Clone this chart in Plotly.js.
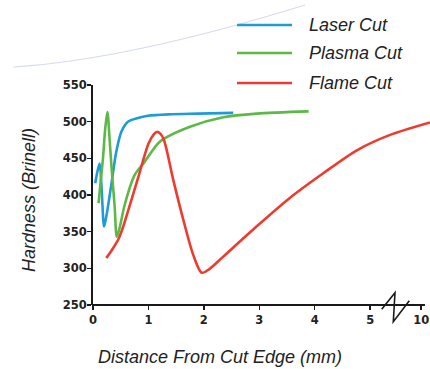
<!DOCTYPE html>
<html>
<head>
<meta charset="utf-8">
<script src="https://cdn.plot.ly/plotly-3.0.1.min.js"></script>
<style>html,body{margin:0;padding:0;background:#fff;}#chart{width:430px;height:369px;}</style>
</head>
<body>
<div id="chart"></div>
<script>
// Tick labels (x axis is broken after 5; last tick stands for 10 mm)
var xTickVals = [0, 1, 2, 3, 4, 5, 5.92];
var xTickText = ['0', '1', '2', '3', '4', '5', '10'];
var yTickVals = [250, 300, 350, 400, 450, 500, 550];

var seriesNames = ['Laser Cut', 'Plasma Cut', 'Flame Cut'];
var seriesColors = ['#1f9bd8', '#5cb946', '#ee3b30'];

// Laser Cut
var laserX = [0.04, 0.08, 0.12, 0.16, 0.20, 0.25, 0.33, 0.42, 0.51, 0.63, 0.81, 0.99, 1.36, 1.9, 2.53];
var laserY = [416, 432, 443, 402, 357, 375, 414, 459, 486, 500, 505, 508, 510, 511, 512];

// Plasma Cut
var plasmaX = [0.10, 0.14, 0.18, 0.22, 0.26, 0.30, 0.34, 0.39, 0.43, 0.48, 0.57, 0.75, 0.93, 1.21, 1.75, 2.35, 2.95, 3.89];
var plasmaY = [389, 420, 450, 490, 513, 475, 432, 385, 343, 355, 386, 427, 445, 473, 493, 506, 511, 514];

// Flame Cut
var flameX = [0.24, 0.35, 0.46, 0.55, 0.64, 0.82, 1.0, 1.1, 1.15, 1.21, 1.28, 1.45, 1.63, 1.81, 1.96, 2.1, 2.35, 2.95, 3.55, 4.16, 4.76, 5.36, 6.08];
var flameY = [314, 326, 340, 358, 380, 425, 470, 483, 486, 484, 475, 420, 366, 318, 294, 299, 316, 357, 396, 430, 461, 482, 499];

var xs = [laserX, plasmaX, flameX];
var ys = [laserY, plasmaY, flameY];

var traces = xs.map(function (x, i) {
  return {
    x: x, y: ys[i], name: seriesNames[i], type: 'scatter', mode: 'lines',
    line: {color: seriesColors[i], width: 2.6, shape: 'spline', smoothing: 0.8},
    showlegend: false, hoverinfo: 'skip'
  };
});

var axisColor = '#1a1a1a';
var tickFont = {family: 'DejaVu Sans, sans-serif', size: 11.5, color: '#222', weight: 'bold'};
var titleFont = {family: 'Liberation Sans, Arial, sans-serif', size: 18, color: '#222', style: 'italic'};

var shapes = [
  // x axis line (ends at the "10" tick)
  {type: 'line', xref: 'paper', yref: 'paper', x0: -0.003, x1: 0.985, y0: 0, y1: 0,
   line: {color: axisColor, width: 2}},
  // axis break symbol
  {type: 'path', xref: 'paper', yref: 'paper',
   path: 'M0.8567,-0.0195 L0.8961,0.0559 L0.8911,-0.0759 L0.9386,0.0195',
   line: {color: axisColor, width: 1.6}},
  // decorative arc at the top
  {type: 'path', xref: 'paper', yref: 'paper',
   path: 'M-0.2365,1.0818 Q0.1049,1.1150 0.6291,1.3636',
   line: {color: '#d6dbee', width: 1.2}}
];

var annotations = [
  {xref: 'paper', yref: 'paper', x: (220 - 93) / 337, y: (305 - 357) / 220, text: 'Distance From Cut Edge (mm)',
   showarrow: false, xanchor: 'center', yanchor: 'middle', font: titleFont},
  {xref: 'paper', yref: 'paper', x: (29 - 93) / 337, y: (305 - 200) / 220, text: 'Hardness (Brinell)',
   showarrow: false, xanchor: 'center', yanchor: 'middle', textangle: -90, font: titleFont}
];

// custom legend
var legendY = [25, 53, 83];
seriesNames.forEach(function (n, i) {
  var py = (305 - legendY[i]) / 220;
  shapes.push({type: 'line', xref: 'paper', yref: 'paper', x0: (237 - 93) / 337, x1: (292 - 93) / 337,
    y0: py, y1: py, line: {color: seriesColors[i], width: 2.6}});
  annotations.push({xref: 'paper', yref: 'paper', x: (307 - 93) / 337, y: py, text: n, showarrow: false,
    xanchor: 'left', yanchor: 'middle', font: titleFont});
});

var layout = {
  width: 430, height: 369,
  margin: {l: 93, r: 0, t: 85, b: 64},
  paper_bgcolor: '#fff', plot_bgcolor: '#fff',
  showlegend: false,
  xaxis: {
    range: [0, 6.08], tickvals: xTickVals, ticktext: xTickText,
    showline: false, showgrid: false, zeroline: false,
    ticks: 'outside', ticklen: 4, tickwidth: 1.5, tickcolor: axisColor,
    tickfont: tickFont, ticklabelstandoff: 0, ticklabeloverflow: 'allow'
  },
  yaxis: {
    range: [250, 550], tickvals: yTickVals,
    showline: true, linewidth: 2, linecolor: axisColor,
    showgrid: false, zeroline: false,
    ticks: 'outside', ticklen: 4, tickwidth: 1.5, tickcolor: axisColor,
    tickfont: tickFont, ticklabelstandoff: -2
  },
  shapes: shapes,
  annotations: annotations
};

Plotly.newPlot('chart', traces, layout, {staticPlot: true, displayModeBar: false});
</script>
</body>
</html>
